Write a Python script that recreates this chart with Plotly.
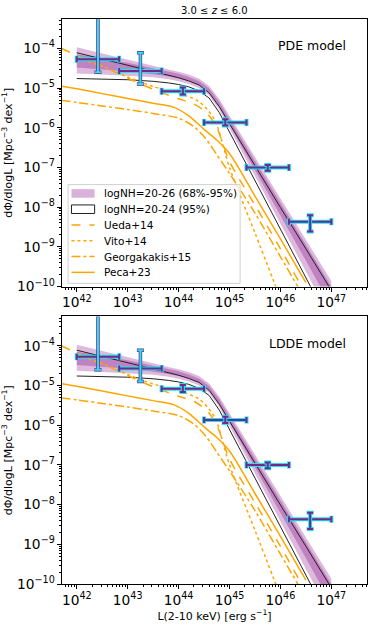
import numpy as np
import plotly.graph_objects as go
from plotly.subplots import make_subplots

# log L grid on which the model envelopes were read
log_l = [42.0, 42.5, 43.0, 43.5, 43.8, 44.0, 44.2, 44.4, 44.6, 44.8, 45.0, 45.3, 45.6, 46.0, 46.5, 47.0]

# logNH=20-26 envelopes (log Phi)
hi95 = [-3.97, -4.13, -4.28, -4.44, -4.53, -4.59, -4.66, -4.76, -4.95, -5.28, -5.70, -6.32, -6.95, -7.78, -8.82, -9.86]
hi68 = [-4.15, -4.25, -4.36, -4.50, -4.58, -4.64, -4.72, -4.82, -5.01, -5.35, -5.78, -6.42, -7.06, -7.90, -8.95, -10.0]
lo68 = [-4.48, -4.53, -4.58, -4.65, -4.71, -4.76, -4.83, -4.93, -5.12, -5.47, -5.92, -6.60, -7.28, -8.20, -9.35, -10.5]
lo95 = [-4.63, -4.66, -4.69, -4.73, -4.78, -4.83, -4.90, -5.00, -5.19, -5.55, -6.02, -6.73, -7.45, -8.41, -9.62, -10.83]

# logNH=20-24 95% envelope (log Phi)
hi24 = [-4.11, -4.27, -4.42, -4.58, -4.67, -4.74, -4.82, -4.92, -5.12, -5.47, -5.90, -6.54, -7.17, -8.01, -9.05, -10.1]
lo24 = [-4.76, -4.77, -4.79, -4.83, -4.87, -4.91, -4.97, -5.07, -5.25, -5.62, -6.10, -6.83, -7.57, -8.55, -9.78, -11.0]

# literature luminosity functions (log L, log Phi)
ueda_l = [41.7, 42.0, 42.5, 43.0, 43.5, 44.0, 44.3, 44.55, 44.75, 45.0, 45.5, 46.0, 46.5]
ueda_phi = [-4.00, -4.18, -4.45, -4.75, -5.03, -5.27, -5.40, -5.62, -6.00, -6.85, -7.95, -9.05, -10.2]
vito_l = [42.0, 42.5, 43.0, 43.5, 44.0, 44.4, 44.7, 45.0, 45.5, 46.0]
vito_phi = [-4.25, -4.45, -4.72, -4.96, -5.13, -5.34, -5.78, -7.00, -8.65, -10.3]
geo_l = [41.7, 42.0, 42.5, 43.0, 43.5, 44.0, 44.3, 44.55, 44.75, 45.0, 45.5, 46.0, 46.5]
geo_phi = [-5.31, -5.36, -5.45, -5.54, -5.64, -5.76, -5.97, -6.30, -6.68, -7.15, -8.15, -9.25, -10.35]
peca_l = [41.7, 42.0, 42.5, 43.0, 43.5, 43.9, 44.2, 44.5, 44.75, 45.0, 45.5, 46.0, 46.5]
peca_phi = [-4.95, -5.02, -5.14, -5.26, -5.38, -5.48, -5.70, -6.04, -6.31, -6.65, -7.72, -8.80, -9.90]

# binned data points
bin_lo = [42.0, 42.833, 43.667, 44.5, 45.333, 46.167]
bin_hi = [42.833, 43.667, 44.5, 45.333, 46.167, 47.0]
phi = [5.3e-5, 2.7e-5, 8.3e-6, 1.35e-6, 1.0e-7, 4.3e-9]
phi_lo = [2.5e-5, 1.26e-5, 6.9e-6, 1.14e-6, 8.3e-8, 2.42e-9]
phi_hi = [8e-4, 7.8e-5, 1.03e-5, 1.64e-6, 1.15e-7, 6.25e-9]

panels = ["PDE model", "LDDE model"]

FONT = "DejaVu Sans"
PURPLE = "#702a8c"
CYAN = "#1ee3f2"
ORANGE = "orange"

fig = make_subplots(rows=2, cols=1, vertical_spacing=0.053)


def band(upper, lower):
    xs = [10 ** v for v in log_l] + [10 ** v for v in log_l[::-1]]
    ys = [10 ** v for v in upper] + [10 ** v for v in lower[::-1]]
    return xs, ys


def errbars(row, idx, color, thick, cap, axis):
    lc = np.array([(bin_lo[i] + bin_hi[i]) / 2 for i in idx])
    x = 10 ** lc
    y = np.array([phi[i] for i in idx])
    kw = {}
    if axis == "x":
        kw["error_x"] = dict(type="data", symmetric=False,
                             array=np.array([10 ** bin_hi[i] for i in idx]) - x,
                             arrayminus=x - np.array([10 ** bin_lo[i] for i in idx]),
                             color=color, thickness=thick, width=cap)
    else:
        kw["error_y"] = dict(type="data", symmetric=False,
                             array=np.array([phi_hi[i] for i in idx]) - y,
                             arrayminus=y - np.array([phi_lo[i] for i in idx]),
                             color=color, thickness=thick, width=cap)
    fig.add_trace(go.Scatter(x=x, y=y, mode="markers", marker=dict(size=1, opacity=0),
                             showlegend=False, hoverinfo="skip", **kw), row=row, col=1)


for r in (1, 2):
    xs, ys = band(hi95, lo95)
    fig.add_trace(go.Scatter(x=xs, y=ys, fill="toself", mode="lines", line=dict(width=0),
                             fillcolor="rgba(128,0,128,0.27)", showlegend=False), row=r, col=1)
    xs, ys = band(hi68, lo68)
    fig.add_trace(go.Scatter(x=xs, y=ys, fill="toself", mode="lines", line=dict(width=0),
                             fillcolor="rgba(128,0,128,0.30)", showlegend=False), row=r, col=1)
    xs, ys = band(hi24, lo24)
    fig.add_trace(go.Scatter(x=xs, y=ys, fill="toself", mode="lines",
                             line=dict(color="#222222", width=1),
                             fillcolor="rgba(0,0,0,0)", showlegend=False), row=r, col=1)
    for lx, ly, dash in [(ueda_l, ueda_phi, "dash"), (vito_l, vito_phi, "dot"),
                         (geo_l, geo_phi, "dashdot"), (peca_l, peca_phi, "solid")]:
        fig.add_trace(go.Scatter(x=[10 ** v for v in lx], y=[10 ** v for v in ly], mode="lines",
                                 line=dict(color=ORANGE, width=1.5, dash=dash, shape="spline",
                                           smoothing=0.8),
                                 showlegend=False), row=r, col=1)

    allp = list(range(6))
    errbars(r, allp, CYAN, 4, 3.5, "x")
    errbars(r, allp, PURPLE, 2, 3, "x")
    errbars(r, [0, 1], PURPLE, 3.5, 3.5, "y")
    errbars(r, [0, 1], CYAN, 2, 3, "y")
    errbars(r, [2, 3, 4, 5], CYAN, 4, 3.5, "y")
    errbars(r, [2, 3, 4, 5], PURPLE, 2, 3, "y")

    fig.add_annotation(text=panels[r - 1], xref="x domain" if r == 1 else "x2 domain",
                       yref="y domain" if r == 1 else "y2 domain", x=0.937, y=0.9,
                       xanchor="right", yanchor="middle", showarrow=False,
                       font=dict(family=FONT, size=12.5, color="black"))

axis_common = dict(showline=True, linecolor="black", linewidth=1, mirror=True,
                   ticks="outside", ticklen=4, tickcolor="black", showgrid=False,
                   zeroline=False, type="log", dtick=1, exponentformat="power",
                   automargin=False,
                   tickfont=dict(family=FONT, size=11, color="black"),
                   minor=dict(ticks="outside", ticklen=2, tickcolor="black", dtick="D1"))
fig.update_xaxes(range=[41.71, 47.70], **axis_common)
fig.update_yaxes(range=[-10, -3.26], **axis_common)
ytitle = "dΦ/dlogL [Mpc<sup>−3</sup> dex<sup>−1</sup>]"
fig.update_yaxes(title=dict(text=ytitle, font=dict(family=FONT, size=11, color="black"),
                            standoff=6))
fig.update_xaxes(title=dict(text="L(2-10 keV) [erg s<sup>−1</sup>]",
                            font=dict(family=FONT, size=11, color="black"), standoff=4),
                 row=2, col=1)

# legend drawn by hand to keep matplotlib's compact spacing
legend_items = ["logNH=20-26 (68%-95%)", "logNH=20-24 (95%)", "Ueda+14", "Vito+14",
                "Georgakakis+15", "Peca+23"]
legend_dash = [None, None, "dash", "dot", "dashdot", "solid"]
top, step = 0.37, 0.059
fig.add_shape(type="rect", xref="x domain", yref="y domain", x0=0.02, x1=0.584,
              y0=0.012, y1=0.381, line=dict(color="#d0d0d0", width=1),
              fillcolor="rgba(255,255,255,0.8)")
for i, (lab, dash) in enumerate(zip(legend_items, legend_dash)):
    yc = top - 0.022 - i * step
    if i == 0:
        fig.add_shape(type="rect", xref="x domain", yref="y domain", x0=0.031, x1=0.107,
                      y0=yc - 0.016, y1=yc + 0.016, line=dict(width=0),
                      fillcolor="rgba(128,0,128,0.3)")
    elif i == 1:
        fig.add_shape(type="rect", xref="x domain", yref="y domain", x0=0.031, x1=0.107,
                      y0=yc - 0.016, y1=yc + 0.016, line=dict(color="#222222", width=1))
    else:
        fig.add_shape(type="line", xref="x domain", yref="y domain", x0=0.031, x1=0.107,
                      y0=yc, y1=yc, line=dict(color=ORANGE, width=1.5, dash=dash))
    fig.add_annotation(text=lab, xref="x domain", yref="y domain", x=0.132, y=yc,
                       xanchor="left", yanchor="middle", showarrow=False,
                       font=dict(family=FONT, size=10.5, color="black"))

fig.add_annotation(text="3.0 ≤ <i>z</i> ≤ 6.0", xref="x domain", yref="paper", x=0.5, y=1.0,
                   yshift=9, yanchor="middle", showarrow=False,
                   font=dict(family=FONT, size=10, color="black"))

fig.update_layout(width=374, height=627, margin=dict(l=62, r=7, t=19, b=43),
                  plot_bgcolor="white", paper_bgcolor="white", showlegend=False,
                  font=dict(family=FONT, color="black"))
# the default page keeps the browser's 8px body margin; drop it
fig.write_html("out.html", config={"displayModeBar": False},
               post_script="document.body.style.margin='0';")
